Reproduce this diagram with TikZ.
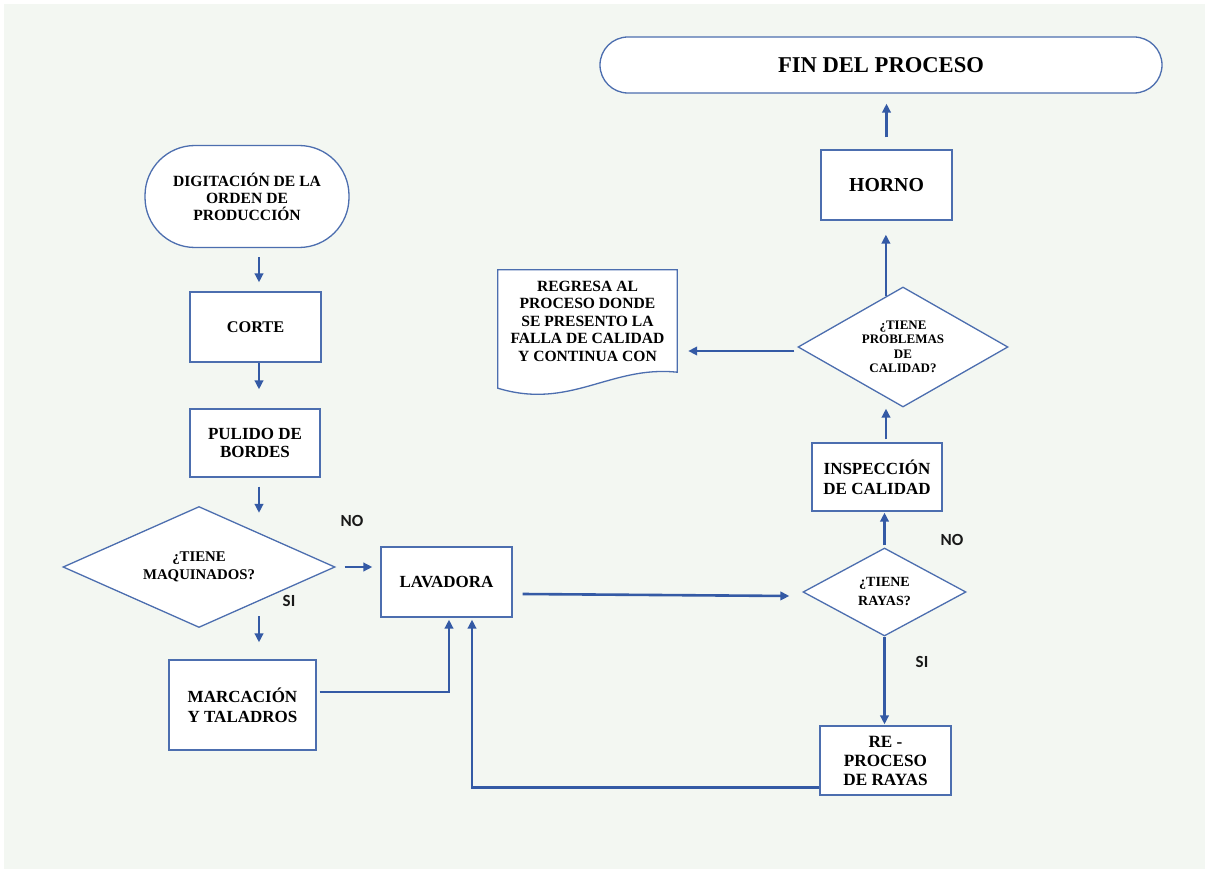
\documentclass[tikz,border=0pt]{standalone}
\usepackage{fontspec}
\setmainfont{Liberation Serif}
\newfontfamily\labfont{Carlito}
\usetikzlibrary{shapes.geometric,arrows.meta,calc,backgrounds}
\definecolor{bg}{RGB}{243,247,242}
\definecolor{bord}{RGB}{76,110,175}
\definecolor{conn}{RGB}{52,90,165}
\newcommand{\fsz}[2]{\fontsize{#1}{#2}\selectfont}
\tikzset{
  box/.style={draw=bord, line width=1.3pt, fill=white, align=center, inner sep=2pt},
  dia/.style={diamond, draw=bord, line width=1.3pt, fill=white, align=center, inner sep=0pt},
  arr/.style={draw=conn, line width=2.6pt, -{Triangle[length=9pt,width=8.5pt]}},
  lbl/.style={font=\labfont\bfseries\fsz{17}{17}, text=black!90}
}
\begin{document}
\begin{tikzpicture}[x=1pt,y=-1pt]
\useasboundingbox (0,0) rectangle (1205,869);
% nodes
\node[box, rounded corners=50pt, minimum width=204pt, minimum height=102pt, font=\bfseries\fsz{15.6}{17}] (digit) at (247,196.5) {DIGITACIÓN DE LA\\ORDEN DE\\PRODUCCIÓN};
\node[box, minimum width=131pt, minimum height=70pt, font=\bfseries\fsz{16.3}{18}] (corte) at (255.5,327) {CORTE};
\node[box, minimum width=130pt, minimum height=68pt, font=\bfseries\fsz{17}{18}] (pulido) at (255,443) {PULIDO DE\\BORDES};
\node[dia, aspect=2.25, minimum width=272pt, minimum height=121pt, font=\bfseries\fsz{14.8}{18}] (maq) at (199,567) {¿TIENE\\MAQUINADOS?};
\node[box, minimum width=131pt, minimum height=70pt, font=\bfseries\fsz{17}{18}] (lav) at (446.5,582) {LAVADORA};
\node[box, minimum width=147pt, minimum height=90pt, font=\bfseries\fsz{17}{20}] (marc) at (242.5,705) {MARCACIÓN\\Y TALADROS};
\node[dia, aspect=1.85, minimum width=163pt, minimum height=88pt, font=\bfseries\fsz{14}{19}] (rayas) at (884.5,592) {¿TIENE\\RAYAS?};
\node[box, minimum width=131pt, minimum height=69pt, font=\bfseries\fsz{17.2}{19}] (rep) at (885.5,760.5) {RE -\\PROCESO\\DE RAYAS};
\node[box, minimum width=130pt, minimum height=68pt, font=\bfseries\fsz{17}{20}] (insp) at (877,477) {INSPECCIÓN\\DE CALIDAD};
\node[dia, aspect=1.75, minimum width=210pt, minimum height=120pt, font=\bfseries\fsz{13}{14.5}] (prob) at (903,347) {¿TIENE\\PROBLEMAS\\DE\\CALIDAD?};
\node[box, minimum width=131pt, minimum height=70pt, font=\bfseries\fsz{19.8}{20}] (horno) at (886.5,185) {HORNO};
\node[box, rounded corners=28pt, minimum width=562pt, minimum height=56pt, font=\bfseries\fsz{22.6}{24}] (fin) at (881,65) {FIN DEL PROCESO};
\node[align=center, inner sep=0pt, minimum width=179pt, minimum height=102pt, font=\bfseries\fsz{15.6}{17.5}] (reg) at (587.5,321) {REGRESA AL\\PROCESO DONDE\\SE PRESENTO LA\\FALLA DE CALIDAD\\Y CONTINUA CON};
\begin{scope}[on background layer]
  \fill[white] (0,0) rectangle (1205,869);
  \fill[bg] (4,4) rectangle (1205,869);
  \filldraw[fill=white, draw=bord, line width=1.3pt] (reg.north west) -- (reg.north east) -- (reg.south east)
    .. controls ($(reg.south east)+(-67,-7)$) and ($(reg.south east)+(-107,38)$) .. ($(reg.south west)+(0,16)$) -- cycle;
\end{scope}
% connectors
\draw[arr] ($(digit.south)+(12,9)$) -- ($(corte.north)+(3.5,-9)$);
\draw[arr] ($(corte.south)+(3.5,0)$) -- ($(pulido.north)+(4,-19)$);
\draw[arr] ($(pulido.south)+(4,9)$) -- ($(maq.north)+(60,7)$);
\draw[arr] ($(maq.east)+(9,0)$) -- ($(lav.west)+(-8,-15)$);
\draw[arr] ($(maq.south)+(60,-12)$) -- ($(marc.north)+(16.5,-17)$);
\draw[arr] ($(marc.east)+(3,-13)$) -| ($(lav.south)+(2.5,2)$);
\draw[arr] ($(rep.west)+(0,27)$) -| ($(lav.south)+(25.5,2)$);
\draw[arr] ($(lav.east)+(10,12)$) -- ($(rayas.west)+(-13,4)$);
\draw[arr] (rayas.south) -- ($(rayas.south |- rep.north)+(0,-1)$);
\draw[arr] ($(rayas.north)+(0,-2)$) -- ($(insp.south)+(7.5,1)$);
\draw[arr] ($(insp.north)+(9,-3)$) -- ($(prob.south)+(-17,1)$);
\coordinate (pe) at ($(prob.north)!0.162!(prob.west)$);
\draw[arr] (pe) -- ($(pe |- horno.south)+(0,14)$);
\draw[arr] ($(horno.north)+(0,-12)$) -- ($(fin.south)+(5.5,10)$);
\draw[arr] ($(prob.west)+(-3,4)$) -- ($(reg.east)+(11,30)$);
% labels
\node[lbl] (no1) at (352,521) {NO};
\node[lbl] (si1) at (289,601) {SI};
\node[lbl] (no2) at (952,540) {NO};
\node[lbl] (si2) at (922,662) {SI};
\end{tikzpicture}
\end{document}
